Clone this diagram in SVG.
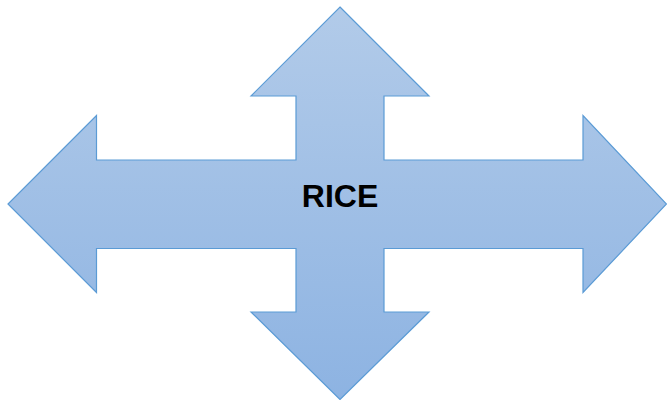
<svg xmlns="http://www.w3.org/2000/svg" width="667" height="400" viewBox="0 0 667 400">
<defs>
<linearGradient id="g" x1="0" y1="0" x2="0" y2="1">
<stop offset="0" stop-color="#b2cbe9"/>
<stop offset="1" stop-color="#8db3e2"/>
</linearGradient>
<style>
.shape{fill:url(#g);stroke:#5b9bd5;stroke-width:1.2;stroke-linejoin:miter}
.lbl{font-family:"Liberation Sans",Arial,sans-serif;font-weight:bold;font-size:32px;fill:#000}
</style>
</defs>
<g id="quad-arrow">
<path class="shape" d="M340,7 L429,96 L384,96 L384,160 L583,160 L583,115.5 L666.5,204 L583,292.5 L583,248.5 L384,248.5 L384,312 L429,312 L340,399.5 L251,312 L296,312 L296,248.5 L96.5,248.5 L96.5,292.5 L8,204 L96.5,115.5 L96.5,160 L296,160 L296,96 L251,96 Z"/>
<text class="lbl" x="340" y="206.5" text-anchor="middle">RICE</text>
</g>
</svg>
